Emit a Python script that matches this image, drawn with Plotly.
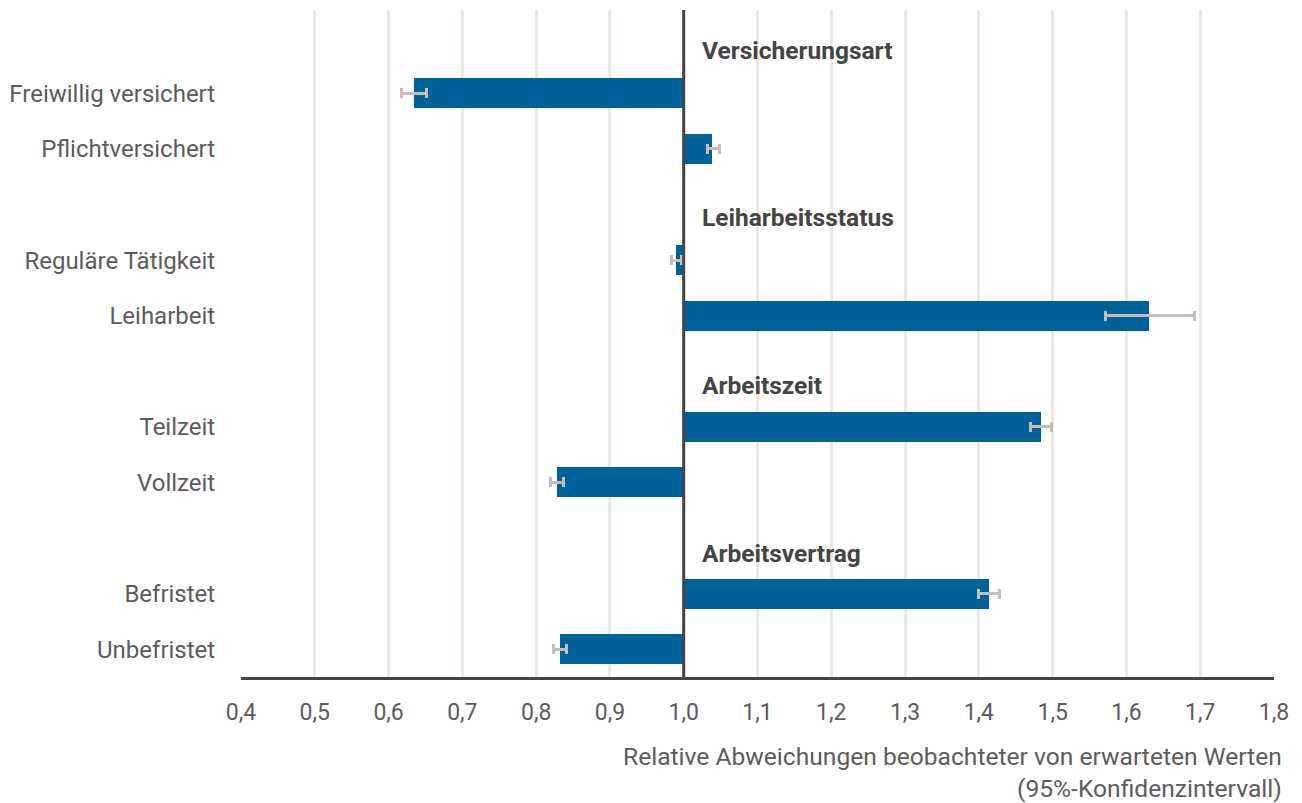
import plotly.graph_objects as go

categories = ["Unbefristet", "Befristet", "Vollzeit", "Teilzeit",
              "Leiharbeit", "Reguläre Tätigkeit", "Pflichtversichert", "Freiwillig versichert"]
row_pos = [0, 1, 3, 4, 6, 7, 9, 10]
values = [0.832, 1.414, 0.828, 1.484, 1.631, 0.990, 1.039, 0.635]
ci_low = [0.823, 1.399, 0.820, 1.470, 1.572, 0.983, 1.032, 0.618]
ci_high = [0.841, 1.428, 0.837, 1.499, 1.692, 0.997, 1.048, 0.652]
groups = ["Arbeitsvertrag", "Arbeitszeit", "Leiharbeitsstatus", "Versicherungsart"]
group_pos = [1.72, 4.74, 7.77, 10.78]
x_ticks = [0.4, 0.5, 0.6, 0.7, 0.8, 0.9, 1.0, 1.1, 1.2, 1.3, 1.4, 1.5, 1.6, 1.7, 1.8]

base = 1.0
FONT = "Roboto"
TXT = "#5c5c5c"

fig = go.Figure()
fig.add_trace(go.Bar(
    y=row_pos,
    x=[v - base for v in values],
    base=base,
    orientation="h",
    width=0.54,
    marker=dict(color="#00629b", line=dict(width=0)),
    error_x=dict(
        type="data", symmetric=False,
        array=[h - v for h, v in zip(ci_high, values)],
        arrayminus=[v - l for v, l in zip(values, ci_low)],
        color="#c4beb6", thickness=3, width=5,
    ),
    hoverinfo="skip",
    showlegend=False,
))

fig.add_shape(type="line", xref="x", yref="paper", x0=1.0, x1=1.0, y0=0, y1=1,
              line=dict(color="#444444", width=3), layer="above")

for g, p in zip(groups, group_pos):
    fig.add_annotation(x=1.0, y=p, xref="x", yref="y", text="<b>" + g + "</b>",
                       showarrow=False, xanchor="left", yanchor="middle", xshift=16,
                       font=dict(family=FONT, size=24.5, color="#444444"))

fig.add_annotation(xref="paper", yref="paper", x=1, y=0, xshift=10, yshift=-63,
                   xanchor="right", yanchor="top", align="right", showarrow=False,
                   text="Relative Abweichungen beobachteter von erwarteten Werten<br>(95%-Konfidenzintervall)",
                   font=dict(family=FONT, size=24.6, color=TXT))

fig.update_layout(
    width=1302, height=803,
    margin=dict(l=233, r=36, t=2, b=134),
    paper_bgcolor="white", plot_bgcolor="white",
    separators=",.",
    font=dict(family=FONT, size=23, color=TXT),
    xaxis=dict(range=[0.4, 1.8], tickvals=x_ticks, tickformat=".1f",
               showgrid=True, gridcolor="#ede9e1", gridwidth=3,
               zeroline=False, showline=True, linecolor="#444444", linewidth=3,
               ticks="outside", ticklen=12, tickcolor="rgba(0,0,0,0)",
               tickfont=dict(family=FONT, size=23, color=TXT), fixedrange=True),
    yaxis=dict(range=[-0.5, 11.5], tickvals=row_pos, ticktext=categories,
               showgrid=False, zeroline=False, showline=False,
               ticks="outside", ticklen=20, tickcolor="rgba(0,0,0,0)",
               tickfont=dict(family=FONT, size=24, color=TXT), fixedrange=True),
    bargap=0,
)

fig.write_html("out.html")
